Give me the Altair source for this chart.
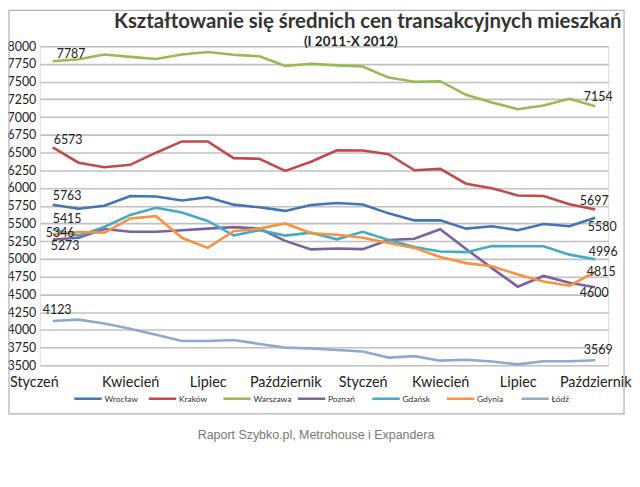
import altair as alt
import pandas as pd

# ---- data ----
cities = ["Wrocław", "Kraków", "Warszawa", "Poznań", "Gdańsk", "Gdynia", "Łódź"]
colors = ["#4374B3", "#BE4B48", "#98B954", "#7D60A0", "#46AAC5", "#F69240", "#8FA8D0"]
month_idx = list(range(22))
tick_idx = [0, 3, 6, 9, 12, 15, 18, 21]
tick_labels = ["Styczeń", "Kwiecień", "Lipiec", "Październik",
               "Styczeń", "Kwiecień", "Lipiec", "Październik"]
y_ticks = list(range(3500, 8001, 250))

wroclaw = [5763, 5707, 5750, 5888, 5880, 5823, 5870, 5765, 5728, 5677, 5759,
           5789, 5767, 5642, 5543, 5543, 5427, 5461, 5405, 5491, 5461, 5580]
krakow = [6573, 6357, 6293, 6327, 6498, 6657, 6657, 6421, 6413, 6241, 6370,
          6533, 6529, 6477, 6250, 6270, 6061, 5997, 5895, 5888, 5772, 5697]
warszawa = [7787, 7816, 7884, 7850, 7820, 7884, 7918, 7880, 7858, 7721, 7753,
            7730, 7713, 7558, 7498, 7507, 7314, 7206, 7112, 7163, 7258, 7154]
poznan = [5273, 5297, 5422, 5383, 5383, 5405, 5427, 5448, 5427, 5254, 5134,
          5147, 5138, 5267, 5285, 5418, 5140, 4870, 4608, 4759, 4664, 4600]
gdansk = [5415, 5328, 5450, 5620, 5720, 5655, 5535, 5330, 5405, 5328, 5370,
          5276, 5383, 5267, 5168, 5103, 5095, 5181, 5177, 5177, 5060, 4996]
gdynia = [5346, 5380, 5370, 5570, 5603, 5297, 5155, 5390, 5427, 5500, 5362,
          5340, 5297, 5224, 5155, 5026, 4940, 4897, 4780, 4681, 4621, 4815]
lodz = [4123, 4143, 4087, 4014, 3928, 3842, 3842, 3855, 3800, 3748, 3735,
        3714, 3692, 3607, 3628, 3564, 3577, 3551, 3512, 3555, 3555, 3569]

series = [wroclaw, krakow, warszawa, poznan, gdansk, gdynia, lodz]

# ---- label placement (style: pixel offsets of the value labels) ----
start_off = {"Wrocław": (0, -9), "Kraków": (1, -7), "Warszawa": (4, -7),
             "Poznań": (-2, 7), "Gdańsk": (0, -11), "Gdynia": (-7, -1),
             "Łódź": (-10, -11)}
end_off = {"Wrocław": (7, 9), "Kraków": (-1, -9), "Warszawa": (3, -9),
           "Poznań": (-1, 6), "Gdańsk": (8, -7), "Gdynia": (6, 0),
           "Łódź": (3, -10)}

rows = []
for c, vals in zip(cities, series):
    for i, v in zip(month_idx, vals):
        rows.append({"city": c, "m": i, "v": v})
df = pd.DataFrame(rows)

FONT = "Lato"
label_map = "{" + ",".join(f"{i}:'{l}'" for i, l in zip(tick_idx, tick_labels)) + "}"

xscale = alt.Scale(domain=[-0.5, 21.5], nice=False, zero=False)
yscale = alt.Scale(domain=[3500, 8000], nice=False, zero=False)

x_axis = alt.Axis(values=tick_idx, labelExpr=f"{label_map}[datum.value]",
                  grid=False, domain=False, ticks=False,
                  labelFontSize=14.5, labelFont=FONT, labelColor="#222",
                  labelPadding=10, labelAlign="center",
                  labelOffset={"condition": {"test": "datum.value == 0", "value": -19},
                               "value": 0},
                  labelOverlap=False, labelBound=False)
y_axis = alt.Axis(values=y_ticks, format="d",
                  grid=True, gridColor="#c0c0c0", gridWidth=1.6,
                  domain=False, ticks=False, labelFontSize=12.5,
                  labelFont=FONT, labelColor="#222", labelPadding=4,
                  labelOverlap=False, labelBound=False, labelFlush=False)

X = lambda: alt.X("m:Q", scale=xscale, title=None, axis=x_axis)
Y = lambda: alt.Y("v:Q", scale=yscale, title=None, axis=y_axis)

lines = alt.Chart(df).mark_line(strokeWidth=2.6).encode(
    x=X(), y=Y(),
    color=alt.Color("city:N", scale=alt.Scale(domain=cities, range=colors),
                    sort=cities,
                    legend=alt.Legend(title=None, orient="none", direction="horizontal",
                                      legendX=33, legendY=339, columns=7,
                                      gridAlign="all", symbolType="stroke",
                                      symbolSize=760, symbolStrokeWidth=2.5,
                                      labelFontSize=8.5, labelFont=FONT,
                                      labelColor="#333", columnPadding=0,
                                      labelOffset=1)),
    order="m:Q",
)

label_layers = []
for c, vals in zip(cities, series):
    sdx, sdy = start_off[c]
    edx, edy = end_off[c]
    s_df = pd.DataFrame({"m": [month_idx[0]], "v": [vals[0]], "t": [str(vals[0])]})
    e_df = pd.DataFrame({"m": [month_idx[-1]], "v": [vals[-1]], "t": [str(vals[-1])]})
    for d, al, dx, dy in [(s_df, "left", sdx, sdy), (e_df, "center", edx, edy)]:
        label_layers.append(
            alt.Chart(d).mark_text(align=al, baseline="middle", fontSize=12.5,
                                   font=FONT, color="#222", dx=dx, dy=dy)
            .encode(x=X(), y=Y(), text="t:N"))

frame = alt.Chart(pd.DataFrame({"a": [0]})).mark_rect(
    fill=None, stroke="#b0b0b0", strokeWidth=1.2).encode(
    x=alt.value(-31), x2=alt.value(588), y=alt.value(-36), y2=alt.value(370))

title = alt.Chart(pd.DataFrame({"t": ["Kształtowanie się średnich cen transakcyjnych mieszkań"]})).mark_text(
    fontSize=20.5, fontWeight="bold", font=FONT, color="#333", align="center", baseline="middle").encode(
    text="t:N", x=alt.value(330), y=alt.value(-24))
subtitle = alt.Chart(pd.DataFrame({"t": ["(I 2011-X 2012)"]})).mark_text(
    fontSize=13.5, fontWeight="bold", font=FONT, color="#222", align="center", baseline="middle").encode(
    text="t:N", x=alt.value(313), y=alt.value(-4))
source = alt.Chart(pd.DataFrame({"t": ["Raport Szybko.pl, Metrohouse i Expandera"]})).mark_text(
    fontSize=12.5, font="Liberation Sans", color="#777", align="center", baseline="middle").encode(
    text="t:N", x=alt.value(278), y=alt.value(391))

chart = alt.layer(lines, *label_layers, frame, title, subtitle, source).properties(
    width=572, height=321,
    autosize=alt.AutoSizeParams(type="none"),
    padding={"left": 32, "top": 37, "right": 24, "bottom": 105},
).configure_view(stroke=None).configure_axis(labelOverlap=False).configure(background="white")

chart.save("out.html", embed_options={"renderer": "svg", "actions": False})
